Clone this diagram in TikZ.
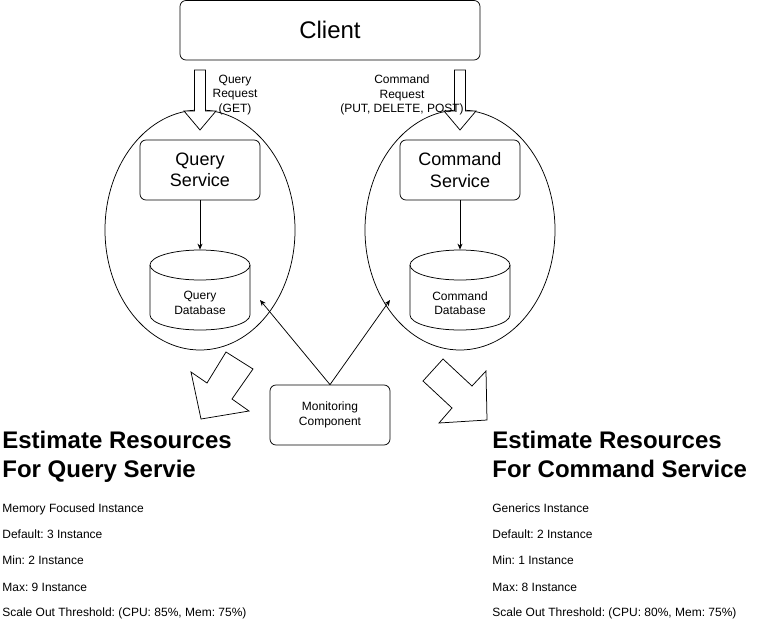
\documentclass[tikz,border=0pt]{standalone}
\usepackage{fontspec}
\setmainfont{Liberation Sans}
\usetikzlibrary{arrows.meta,shapes.geometric,positioning}
\frenchspacing

\begin{document}
\begin{tikzpicture}[x=1pt,y=-1pt,line width=0.75pt,
    box/.style={draw,rounded corners=6pt,align=center,inner sep=0pt},
    zone/.style={draw,ellipse,minimum width=190pt,minimum height=240pt,inner sep=0pt},
    link/.style={-{Stealth[length=6pt,width=5pt]}},
    small/.style={font=\fontsize{12}{14.4}\selectfont,align=center,inner sep=0pt},
    heading/.style={anchor=base west,inner sep=0pt,font=\fontsize{24}{29}\selectfont\bfseries},
    item/.style={anchor=base west,inner sep=0pt,font=\fontsize{12}{14}\selectfont}]
  \useasboundingbox (0,0) rectangle (760,629);

  % client and the two service zones
  \node (client) [box,minimum width=300pt,minimum height=59.5pt,font=\fontsize{24}{29}\selectfont] at (330,30.25) {Client};
  \node (qzone) [zone] at (200,230) {};
  \node (czone) [zone] at (460,230) {};

  % request arrows
  \draw[fill=white] (194.5,70) -- (205.5,70) -- (205.5,111) -- (216,111) -- (200,130) -- (184,111) -- (194.5,111) -- cycle;
  \draw[fill=white] (454.5,70) -- (465.5,70) -- (465.5,111) -- (476,111) -- (460,130) -- (444,111) -- (454.5,111) -- cycle;
  \node (qreq) [small] at (235,95) {Query\\Request\\(GET)};
  \node (creq) [small] at (402,95) {Command\\Request\\(PUT, DELETE, POST)};

  % services
  \node (qsvc) [box,minimum width=120pt,minimum height=60pt,font=\fontsize{18}{21.5}\selectfont] at (200,170) {Query\\Service};
  \node (csvc) [box,minimum width=120pt,minimum height=60pt,font=\fontsize{18}{21.5}\selectfont] at (460,170) {Command\\Service};

  % databases
  \draw (150,265) -- (150,315) arc[start angle=180,end angle=0,x radius=50,y radius=15] -- (250,265);
  \draw (200,265) ellipse [x radius=50,y radius=15];
  \draw (410,265) -- (410,315) arc[start angle=180,end angle=0,x radius=50,y radius=15] -- (510,265);
  \draw (460,265) ellipse [x radius=50,y radius=15];
  \node (qdb) [minimum width=100pt,minimum height=80pt,inner sep=0pt] at (200,290) {};
  \node (cdb) [minimum width=100pt,minimum height=80pt,inner sep=0pt] at (460,290) {};
  \node (qdbtext) [small] at (200,303) {Query\\Database};
  \node (cdbtext) [small] at (460,303) {Command\\Database};

  \draw[link] (qsvc) -- (qdb);
  \draw[link] (csvc) -- (cdb);

  % monitoring
  \node (mon) [box,small,minimum width=120pt,minimum height=60pt] at (330,415) {Monitoring\\Component};
  \coordinate (qhit) at (260,300);
  \coordinate (chit) at (390,300);
  \draw[link] (mon.north) -- (qhit);
  \draw[link] (mon.north) -- (chit);

  % estimate arrows
  \draw (226,352) -- (253,369) -- (232,399) -- (249,411) -- (201,419) -- (191,372) -- (207,383) -- cycle;
  \draw (443,359) -- (472,386) -- (486,371) -- (487,420) -- (439,423) -- (452,408) -- (423,381) -- cycle;

  % query estimate
  \node (qhead) [heading] at (2,448) {Estimate Resources};
  \node (qhead2) [heading] at (2,477) {For Query Servie};
  \node (qtype) [item] at (2,512) {Memory Focused Instance};
  \node (qdef) [item] at (2,538) {Default: 3 Instance};
  \node (qmin) [item] at (2,564) {Min: 2 Instance};
  \node (qmax) [item] at (2,591) {Max: 9 Instance};
  \node (qscale) [item] at (2,616) {Scale Out Threshold: (CPU: 85\%, Mem: 75\%)};

  % command estimate
  \node (chead) [heading] at (492,448) {Estimate Resources};
  \node (chead2) [heading] at (492,477) {For Command Service};
  \node (ctype) [item] at (492,512) {Generics Instance};
  \node (cdef) [item] at (492,538) {Default: 2 Instance};
  \node (cmin) [item] at (492,564) {Min: 1 Instance};
  \node (cmax) [item] at (492,591) {Max: 8 Instance};
  \node (cscale) [item] at (492,616) {Scale Out Threshold: (CPU: 80\%, Mem: 75\%)};
\end{tikzpicture}
\end{document}
